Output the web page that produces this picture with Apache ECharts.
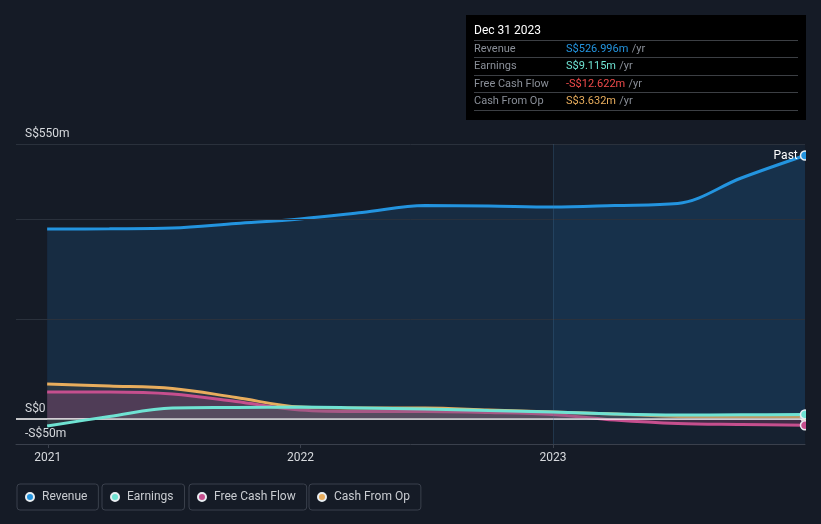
<!DOCTYPE html>
<html><head><meta charset="utf-8">
<script src="https://cdn.jsdelivr.net/npm/echarts@6/dist/echarts.min.js"></script>
<style>html,body{margin:0;padding:0;background:#151b26}#c{width:821px;height:524px}</style>
</head><body><div id="c"></div><script>
const dates = ['2020-12-31','2021-03-31','2021-06-30','2021-09-30','2021-12-31','2022-03-31','2022-06-30','2022-09-30','2022-12-31','2023-03-31','2023-06-30','2023-09-30','2023-12-31'];
const revenue = [380, 380.5, 382, 391, 400, 413, 427, 426, 424, 427, 431, 482, 526.996];
const earnings = [-14, 5, 22, 23, 24, 22, 20, 17, 14, 10, 8, 8.5, 9.115];
const freeCashFlow = [54, 54, 50, 35, 18, 15, 15, 13, 9, -2, -9, -11, -12.622];
const cashFromOp = [70, 66, 61, 43, 24, 22, 22, 18, 14, 10, 5, 4, 3.632];
const xTickLabels = ['2021', '2022', '2023'];
const yTickValues = [-50, 0, 550];
const gridValues = [200, 400, 550];
const tooltipTitle = 'Dec 31 2023';

const FONT = 'Roboto, "Noto Sans", sans-serif';
const ts = d => { const p = d.split('-').map(Number); return Date.UTC(p[0], p[1]-1, p[2]); };
const xMin = Date.UTC(2020, 10, 16), xMax = Date.UTC(2023, 11, 31);
const xTicks = xTickLabels.map(y => Date.UTC(+y, 0, 1));
const pair = arr => arr.map((v, i) => [ts(dates[i]), v]);
const last = arr => arr[arr.length - 1];
const fmt = v => (v < 0 ? '-' : '') + 'S$' + Math.abs(v).toFixed(3) + 'm';
const yFmt = v => v === 0 ? 'S$0' : (v < 0 ? '-' : '') + 'S$' + Math.abs(v) + 'm';

const C = {rev: '#2394df', earn: '#6fe3d3', fcf: '#c64f8e', cfo: '#e8ad5d'};
const n = dates.length;
const endSym = (v, p) => p.dataIndex === n - 1 ? 9 : 0;

function lineSeries(name, data, color, area, extra) {
  return Object.assign({
    name, type: 'line', data: pair(data), smooth: 0.35,
    showSymbol: true, showAllSymbol: true, symbol: 'circle', symbolSize: endSym,
    itemStyle: {color, borderColor: '#e8eef2', borderWidth: 1.5},
    lineStyle: {color, width: 3},
    areaStyle: {color: area, origin: 0},
    emphasis: {disabled: true}, z: 3
  }, extra || {});
}

const chart = echarts.init(document.getElementById('c'), null, {renderer: 'canvas'});
const rows = [
  ['Revenue', last(revenue), C.rev],
  ['Earnings', last(earnings), C.earn],
  ['Free Cash Flow', last(freeCashFlow), '#f04b4b'],
  ['Cash From Op', last(cashFromOp), C.cfo]
];
const graphic = [
  {type: 'rect', shape: {x: 806, y: 140, width: 15, height: 300}, style: {fill: '#151b26'}, z: 90},
  {type: 'rect', shape: {x: 466, y: 15, width: 340, height: 105}, style: {fill: '#000'}, z: 100},
  {type: 'text', x: 474, y: 31, style: {text: tooltipTitle, fill: '#fff', font: '12px ' + FONT, verticalAlign: 'middle'}, z: 101}
];
[40.5, 57.5, 75.5, 92.5, 110.5].forEach(y => graphic.push({type: 'line', shape: {x1: 474, y1: y, x2: 798, y2: y}, style: {stroke: '#3c3f44', lineWidth: 1}, z: 101}));
rows.forEach((r, i) => {
  const y = 49 + i * 17.5;
  graphic.push({type: 'text', x: 474, y, style: {text: r[0], fill: '#8a8f98', font: '11px ' + FONT, verticalAlign: 'middle'}, z: 101});
  graphic.push({type: 'text', x: 566, y, style: {text: '{v|' + fmt(r[1]) + '} {u|/yr}', verticalAlign: 'middle',
    rich: {v: {fill: r[2], font: '11px ' + FONT}, u: {fill: '#8a8f98', font: '11px ' + FONT}}}, z: 101});
});

const names = ['Revenue', 'Earnings', 'Free Cash Flow', 'Cash From Op'];
const legendLeft = [17, 102, 189, 309];
const legends = names.map((nm, i) => ({
  data: [nm], left: legendLeft[i], top: 484, orient: 'horizontal',
  borderColor: '#3a404c', borderWidth: 1, borderRadius: 3, padding: [7, 11, 7, 8],
  itemWidth: 14, itemHeight: 8, icon: 'circle', selectedMode: false,
  textStyle: {color: '#c9ccd1', fontSize: 12, fontFamily: FONT}
}));

chart.setOption({
  backgroundColor: '#151b26',
  animation: false,
  textStyle: {fontFamily: FONT},
  grid: {left: 16, right: 16, top: 144, bottom: 80, containLabel: false},
  legend: legends,
  graphic,
  xAxis: {
    type: 'value', min: xMin, max: xMax,
    axisLine: {show: true, onZero: false, lineStyle: {color: '#3a404c'}},
    axisTick: {show: true, customValues: xTicks, length: 4, lineStyle: {color: '#3a404c'}},
    axisLabel: {customValues: xTicks, formatter: v => String(new Date(v).getUTCFullYear()), color: '#d6d9dd', fontSize: 12, margin: 8},
    splitLine: {show: false}
  },
  yAxis: {
    type: 'value', min: -50, max: 550,
    axisLine: {show: false}, axisTick: {show: false}, splitLine: {show: false},
    axisLabel: {customValues: yTickValues, inside: true, formatter: yFmt, color: '#d6d9dd', fontSize: 12,
      verticalAlign: 'bottom', align: 'left', margin: 9, padding: [0, 0, 4, 0]}
  },
  series: [
    lineSeries('Revenue', revenue, C.rev, 'rgba(33,150,243,0.2)', {
      z: 2,
      label: {show: true, formatter: p => p.dataIndex === n - 1 ? 'Past' : '', position: 'left', distance: 2, color: '#fff', fontSize: 12},
      markArea: {silent: true, itemStyle: {color: 'rgba(40,110,180,0.07)'}, data: [[{xAxis: xTicks[2]}, {xAxis: xMax}]]},
      markLine: {silent: true, symbol: 'none', label: {show: false},
        data: gridValues.map(v => ({yAxis: v, lineStyle: {color: '#2a313c', width: 1, type: 'solid'}}))
          .concat([{yAxis: 0, lineStyle: {color: '#ffffff', width: 1.5, type: 'solid'}},
                   {xAxis: xTicks[2], lineStyle: {color: 'rgba(70,120,160,0.25)', width: 1, type: 'solid'}}])}
    }),
    lineSeries('Earnings', earnings, C.earn, 'rgba(100,110,115,0.45)', {z: 5}),
    lineSeries('Free Cash Flow', freeCashFlow, C.fcf, 'rgba(198,79,142,0.35)', {z: 4}),
    lineSeries('Cash From Op', cashFromOp, C.cfo, 'rgba(232,173,93,0.12)', {z: 3})
  ]
});
</script></body></html>
